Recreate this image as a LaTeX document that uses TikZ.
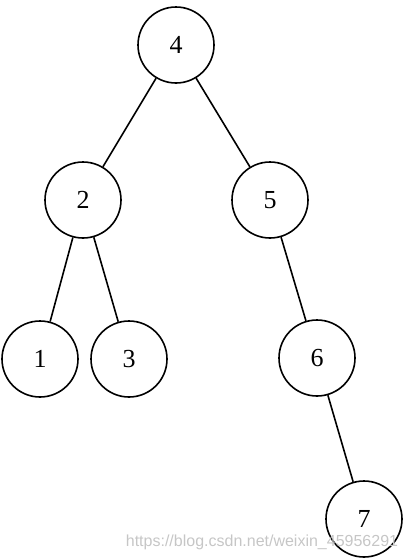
\documentclass[tikz,border=0pt]{standalone}
\usepackage{fontspec}
\setmainfont{Liberation Serif}
\newfontfamily\markfont{Liberation Sans}
\tikzset{
  treenode/.style={
    draw,
    circle,
    line width=1.6pt,
    minimum size=76pt,
    inner sep=0pt,
    font=\fontsize{26}{26}\selectfont
  },
  link/.style={
    line width=1.6pt
  }
}

\begin{document}
\begin{tikzpicture}[x=1pt, y=-1pt]
  \useasboundingbox (0,0) rectangle (406,560);
  \node[treenode] (n4) at (176,45) {4};
  \node[treenode] (n2) at (83,200) {2};
  \node[treenode] (n5) at (270,200) {5};
  \node[treenode] (n1) at (40,359) {1};
  \node[treenode] (n3) at (129,359) {3};
  \node[treenode] (n6) at (317,358) {6};
  \node[treenode] (n7) at (364,519) {7};

  \draw[link] (n4) -- (n2);
  \draw[link] (n4) -- (n5);
  \draw[link] (n2) -- (n1);
  \draw[link] (n2) -- (n3);
  \draw[link] (n5) -- (n6);
  \draw[link] (n6) -- (n7);

  % watermark
  \node[text=gray!45, font=\markfont\fontsize{16}{16}\selectfont] (mark) at (262,542) {https://blog.csdn.net/weixin\_45956291};
\end{tikzpicture}
\end{document}
